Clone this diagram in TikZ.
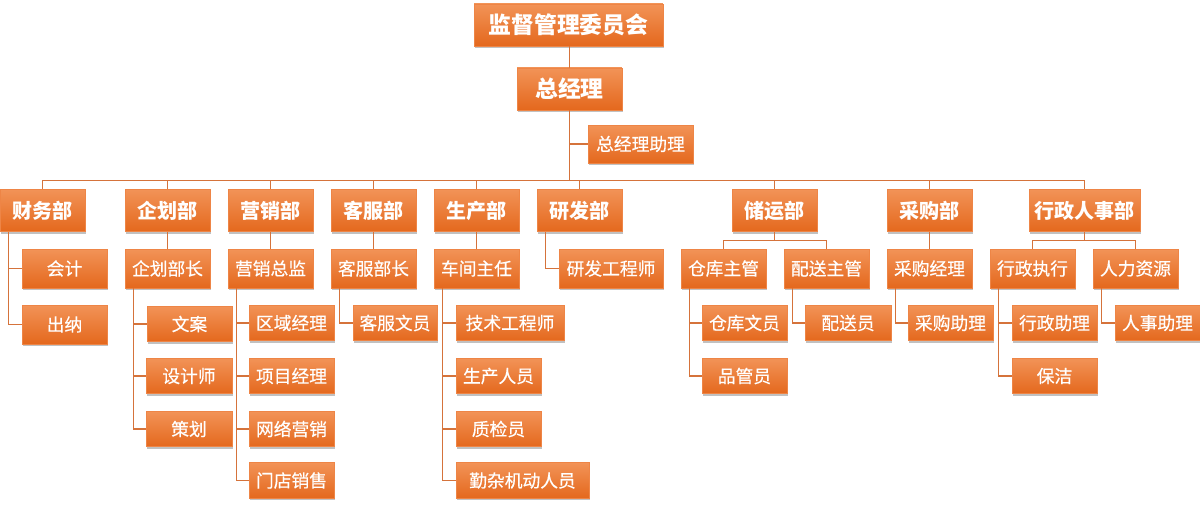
\documentclass[tikz,border=0pt]{standalone}
\usepackage{fontspec}
\newfontfamily\cjk{Noto Sans CJK SC}
\newfontfamily\cjkm[FakeBold=0.5]{Noto Sans CJK SC}
\usetikzlibrary{shadows,calc}
\definecolor{boxtop}{HTML}{F29357}
\definecolor{boxbot}{HTML}{E4681D}
\definecolor{boxedge}{HTML}{EE8546}
\definecolor{linec}{HTML}{D5733B}
\tikzset{
  box/.style={rectangle, draw=boxedge, line width=0.3pt, top color=boxtop, bottom color=boxbot,
    text=white, inner sep=0pt,
    drop shadow={shadow xshift=0.7pt, shadow yshift=-1pt, fill=black!70, opacity=0.35}},
  lv0/.style={box, font=\cjk\bfseries\fontsize{13}{15}\selectfont, minimum height=0.84cm},
  lv1/.style={box, font=\cjk\bfseries\fontsize{11.4}{13}\selectfont, minimum height=0.85cm},
  lv2/.style={box, font=\cjkm\fontsize{10.1}{12}\selectfont, minimum height=0.78cm},
  lv3/.style={box, font=\cjkm\fontsize{10.1}{12}\selectfont, minimum height=0.71cm},
  conn/.style={draw=linec, line width=0.7pt},
}
\begin{document}
\begin{tikzpicture}[x=0.02cm, y=-0.02cm]
\useasboundingbox (0,0) rectangle (1200,506);
% top
\node[lv0, minimum width=3.78cm] (top) at (568.5,25) {监督管理委员会};
\node[lv0, minimum width=2.1cm] (gm) at (569.5,89) {总经理};
\node[lv3, minimum width=2.1cm, minimum height=0.76cm] (asst) at (640.5,144) {总经理助理};
\coordinate (bus) at (570,180.5);
% departments
\node[lv1, minimum width=1.7cm] (d1) at (42.5,210.5) {财务部};
\node[lv1, minimum width=1.7cm] (d2) at (167.5,210.5) {企划部};
\node[lv1, minimum width=1.7cm] (d3) at (270.5,210.5) {营销部};
\node[lv1, minimum width=1.7cm] (d4) at (373.5,210.5) {客服部};
\node[lv1, minimum width=1.7cm] (d5) at (476.5,210.5) {生产部};
\node[lv1, minimum width=1.7cm] (d6) at (579.5,210.5) {研发部};
\node[lv1, minimum width=1.7cm] (d7) at (774.5,210.5) {储运部};
\node[lv1, minimum width=1.7cm] (d8) at (929.5,210.5) {采购部};
\node[lv1, minimum width=2.22cm] (d9) at (1084.5,210.5) {行政人事部};
% level 2
\node[lv2, minimum width=1.7cm] (kj) at (64.5,268.5) {会计};
\node[lv2, minimum width=1.7cm] (cn) at (64.5,324.5) {出纳};
\node[lv2, minimum width=1.7cm] (qhbz) at (167.5,268.5) {企划部长};
\node[lv2, minimum width=1.7cm] (yxzj) at (270.5,268.5) {营销总监};
\node[lv2, minimum width=1.7cm] (kfbz) at (373.5,268.5) {客服部长};
\node[lv2, minimum width=1.7cm] (cjzr) at (476.5,268.5) {车间主任};
\node[lv2, minimum width=2.08cm] (yfgcs) at (611,268.5) {研发工程师};
\node[lv2, minimum width=1.7cm] (ckzg) at (723.5,268.5) {仓库主管};
\node[lv2, minimum width=1.7cm] (pszg) at (826.5,268.5) {配送主管};
\node[lv2, minimum width=1.7cm] (cgjl) at (929.5,268.5) {采购经理};
\node[lv2, minimum width=1.7cm] (xzzx) at (1032.5,268.5) {行政执行};
\node[lv2, minimum width=1.7cm] (rlzy) at (1135.5,268.5) {人力资源};
% level 3
\node[lv3, minimum width=1.7cm] (wa) at (189.5,324) {文案};
\node[lv3, minimum width=1.72cm] (sjs) at (189,376) {设计师};
\node[lv3, minimum width=1.72cm] (ch) at (189,429) {策划};
\node[lv3, minimum width=1.7cm] (qyjl) at (291.5,323) {区域经理};
\node[lv3, minimum width=1.7cm] (xmjl) at (291.5,376) {项目经理};
\node[lv3, minimum width=1.7cm] (wlyx) at (291.5,429) {网络营销};
\node[lv3, minimum width=1.7cm] (mdxs) at (291.5,480.5) {门店销售};
\node[lv3, minimum width=1.68cm] (kfwy) at (395,323) {客服文员};
\node[lv3, minimum width=2.16cm] (jsgcs) at (510,323) {技术工程师};
\node[lv3, minimum width=1.7cm] (scry) at (498.5,376) {生产人员};
\node[lv3, minimum width=1.7cm] (zjy) at (498.5,429) {质检员};
\node[lv3, minimum width=2.66cm] (qzjd) at (522.5,480.5) {勤杂机动人员};
\node[lv3, minimum width=1.7cm] (ckwy) at (744.5,323) {仓库文员};
\node[lv3, minimum width=1.7cm] (pgy) at (744.5,376) {品管员};
\node[lv3, minimum width=1.72cm] (psy) at (848,323) {配送员};
\node[lv3, minimum width=1.7cm] (cgzl) at (950.5,323) {采购助理};
\node[lv3, minimum width=1.7cm] (xzzl) at (1054.5,323) {行政助理};
\node[lv3, minimum width=1.7cm] (bj) at (1054.5,376) {保洁};
\node[lv3, minimum width=1.7cm] (rszl) at (1157.5,323) {人事助理};
% connectors
\draw[conn] (gm.north) -- (gm.north |- top.south);
\draw[conn] (gm.south) -- (gm.south |- bus);
\draw[conn] (gm.south |- asst.west) -- (asst.west);
\draw[conn] (d1.north |- bus) -- (d9.north |- bus);
\foreach \d in {d1,d2,d3,d4,d5,d6,d7,d8,d9}{\draw[conn] (\d.north) -- (\d.north |- bus);}
\draw[conn] ([xshift=0.18cm]d1.south west) |- (kj.west);
\draw[conn] ([xshift=0.18cm]d1.south west) |- (cn.west);
\draw[conn] (d2.south) -- (qhbz.north);
\draw[conn] (d3.south) -- (yxzj.north);
\draw[conn] (d4.south) -- (kfbz.north);
\draw[conn] (d5.south) -- (cjzr.north);
\draw[conn] (d8.south) -- (cgjl.north);
\draw[conn] ([xshift=0.18cm]d6.south west) |- (yfgcs.west);
\draw[conn] (d7.south) -- ($(d7.south)!.5!(d7.south |- ckzg.north)$);
\draw[conn] (ckzg.north) |- ($(d7.south)!.5!(d7.south |- ckzg.north)$) -| (pszg.north);
\draw[conn] (d9.south) -- ($(d9.south)!.5!(d9.south |- xzzx.north)$);
\draw[conn] (xzzx.north) |- ($(d9.south)!.5!(d9.south |- xzzx.north)$) -| (rlzy.north);
\foreach \p/\c in {qhbz/wa,qhbz/sjs,qhbz/ch,yxzj/qyjl,yxzj/xmjl,yxzj/wlyx,yxzj/mdxs,kfbz/kfwy,
  cjzr/jsgcs,cjzr/scry,cjzr/zjy,cjzr/qzjd,ckzg/ckwy,ckzg/pgy,pszg/psy,cgjl/cgzl,xzzx/xzzl,xzzx/bj,rlzy/rszl}{
  \draw[conn] ([xshift=0.18cm]\p.south west) |- (\c.west);}
\end{tikzpicture}
\end{document}
